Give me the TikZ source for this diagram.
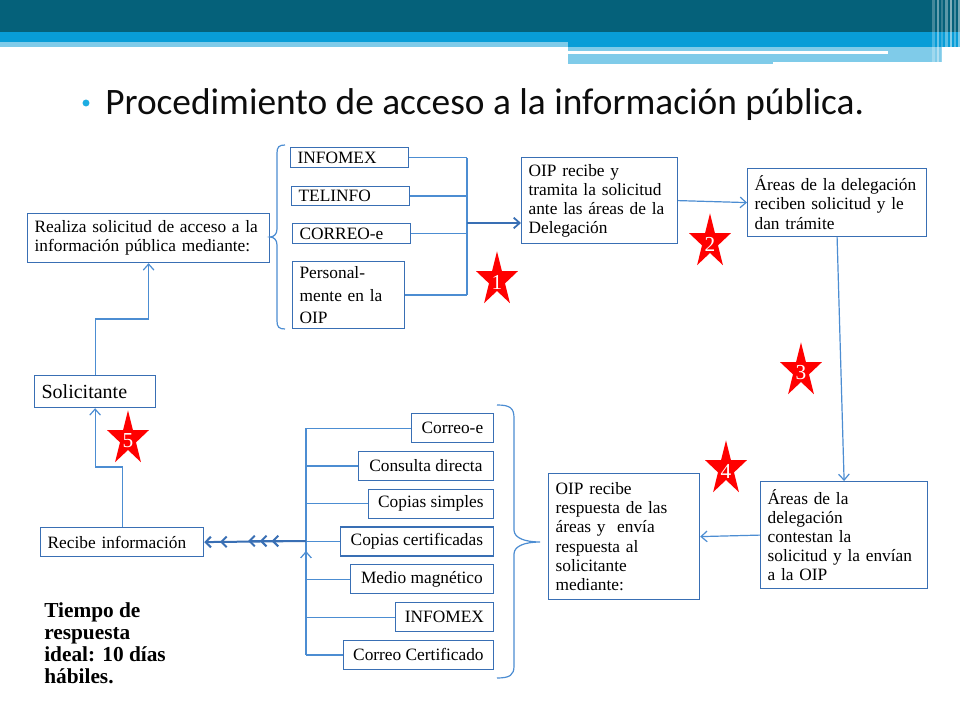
\documentclass[tikz,border=0pt]{standalone}
\usepackage{fontspec}
\setmainfont{Liberation Serif}
\newfontfamily\titulofont{Carlito}
\usetikzlibrary{arrows.meta}

\definecolor{tealosc}{RGB}{5,97,122}
\definecolor{azulvivo}{RGB}{8,157,215}
\definecolor{azulclaro}{RGB}{127,203,233}
\definecolor{vineta}{RGB}{29,173,226}
\definecolor{cajaazul}{RGB}{57,111,180}
\definecolor{lineaazul}{RGB}{76,141,210}

\def\px{0.75pt}

% estrella roja con numero: nombre, centro, numero
\newcommand{\estrella}[3]{%
  \fill[red, shift={(#2)}, xscale=22, yscale=28.7] (-90:1)
    \foreach \k in {1,...,9} { -- ({-90+36*\k}:{mod(\k,2)==0 ? 1 : 0.382}) } -- cycle;
  \node[numero, yshift=-1.5pt] (#1) at (#2) {#3};}

\begin{document}
\begin{tikzpicture}[x=0.75pt, y=-0.75pt,
    caja/.style={draw=cajaazul, line width=0.9pt, anchor=north west,
      inner xsep=5.25pt, inner ysep=0pt, font=\fontsize{13}{14.3}\selectfont},
    opcion/.style={draw=cajaazul, line width=0.9pt, anchor=north east, align=center,
      inner sep=0pt, minimum height=29*\px, font=\fontsize{13}{14.3}\selectfont},
    linea/.style={draw=lineaazul, line width=0.9pt},
    punta/.style={-{Straight Barb[length=4.5pt, width=8pt]}},
    numero/.style={text=white, font=\fontsize{16}{16}\selectfont, inner sep=0pt}
  ]
    \useasboundingbox (0,0) rectangle (960,720);
    \fill[white] (0,0) rectangle (960,720);

    % cabecera
    \fill[tealosc] (0,0) rectangle (960,32);
    \fill[azulvivo] (0,32) rectangle (960,42);
    \fill[azulvivo] (568,42) rectangle (960,47);
    \fill[azulclaro] (0,42) rectangle (568,47);
    \fill[azulclaro] (568,47) rectangle (942,62);
    \fill[azulclaro] (568,62) rectangle (773,64);
    \fill[white] (568,51) rectangle (888,54);
    \foreach \x/\w/\o in {932/3/0.25, 937/2/0.4, 941/1.5/0.2, 945/3/0.35, 950/1.5/0.5, 954/2/0.3, 958/2/0.45}
      \fill[white, opacity=\o] (\x,0) rectangle (\x+\w,64);

    % titulo
    \fill[vineta] (86,103) circle[radius=2.6pt];
    \node[anchor=base west, inner sep=0pt, text=black!95, font=\titulofont\fontsize{28}{34}\selectfont]
      (titulo) at (105,115) {Procedimiento de acceso a la información pública.};

    % solicitud
    \node[caja, text width=228*\px, minimum height=49*\px] (realiza) at (27,213)
      {Realiza solicitud de acceso a la\\información pública mediante:};
    \node[caja, text width=104*\px, minimum height=20*\px] (infomex) at (290,147) {INFOMEX};
    \node[caja, text width=104*\px, minimum height=19*\px] (telinfo) at (291,186) {TELINFO};
    \node[caja, text width=104*\px, minimum height=20*\px] (correo) at (292,223) {CORREO-e};
    \node[caja, text width=98*\px, minimum height=67*\px, font=\fontsize{13}{17}\selectfont]
      (personal) at (292,261) {Personal-\\mente en la\\OIP};

    \node[caja, text width=142*\px, minimum height=86*\px] (oiprecibe) at (521,157)
      {OIP recibe y\\tramita la solicitud\\ante las áreas de la\\Delegación};
    \node[caja, text width=165*\px, minimum height=68*\px] (areasrecibe) at (747,168)
      {Áreas de la delegación\\reciben solicitud y le\\dan trámite};
    \node[caja, text width=153*\px, minimum height=107*\px] (areascontestan) at (760,481)
      {Áreas de la\\delegación\\contestan la\\solicitud y la envían\\a la OIP};
    \node[caja, text width=137*\px, minimum height=126*\px] (oiprespuesta) at (548,473)
      {OIP recibe\\respuesta de las\\áreas y\ \ envía\\respuesta al\\solicitante\\mediante:};

    % respuesta
    \foreach \izq/\texto [count=\i from 0] in {412/Correo-e, 359/Consulta directa,
        369/Copias simples, 341/Copias certificadas, 351/Medio magnético,
        396/INFOMEX, 344/Correo Certificado}
      \node[opcion, minimum width={(494-\izq)*\px}] (op\i) at (494,{413+37.8*\i}) {\texto};

    \node[caja, text width=149*\px, minimum height=29*\px] (recibe) at (40,527) {Recibe información};
    \node[caja, text width=107*\px, minimum height=32*\px, font=\fontsize{15}{16}\selectfont]
      (solicitante) at (34,375) {Solicitante};

    % conectores de arriba
    \coordinate (eje1) at (467,223);
    \foreach \n in {infomex, telinfo, correo, personal}
      \draw[linea] (\n.east) -- (\n.east -| eje1);
    \draw[linea] (eje1 |- infomex.east) -- (eje1 |- personal.east);
    \draw[cajaazul, line width=1.3pt, -{Straight Barb[length=4.5pt, width=8pt]}]
      (eje1) -- (oiprecibe.west |- eje1);
    \draw[linea, punta] (oiprecibe.east) -- (areasrecibe.west);
    \draw[linea, punta] (areasrecibe.south) -- (areascontestan.north);
    \draw[linea, punta] (areascontestan.west) -- (oiprespuesta.east);

    % conectores de abajo
    \coordinate (eje2) at (306,541);
    \coordinate (subida) at (306,551);
    \coordinate (triple) at (248,541);
    \foreach \i in {0,...,6}
      \draw[linea] (op\i.west) -- (op\i.west -| eje2);
    \draw[linea] (eje2 |- op0.west) -- (eje2 |- op6.west);
    \draw[linea, punta] (eje2 |- op6.west) -- (subida);
    \draw[cajaazul, line width=1.5pt, -{Straight Barb[length=4pt, width=8pt, sep=6pt]
      Straight Barb[length=4pt, width=8pt]}] (eje2) -- (recibe.east);
    \draw[cajaazul, line width=1.5pt, -{Straight Barb[length=4pt, width=8pt, sep=3pt]
      Straight Barb[length=4pt, width=8pt, sep=3pt] Straight Barb[length=4pt, width=8pt]}]
      (eje2) -- (triple);

    % solicitante
    \coordinate (codo1) at (0,319);
    \coordinate (codo2) at (0,467);
    \draw[linea, punta] (solicitante.north) |- (realiza.south |- codo1) -- (realiza.south);
    \draw[linea, punta] (recibe.north) |- (solicitante.south |- codo2) -- (solicitante.south);

    % llaves
    \draw[linea] (285,145) .. controls (279,145) and (277,147) .. (277,153) -- (277,229)
      .. controls (277,234) and (274,237) .. (270,237)
      .. controls (274,237) and (277,240) .. (277,245) -- (277,321)
      .. controls (277,327) and (279,329) .. (285,329);
    \draw[linea] (497,405) .. controls (510,405) and (514,408) .. (514,418) -- (514,530)
      .. controls (514,538) and (525,542) .. (540,542)
      .. controls (525,542) and (514,546) .. (514,554) -- (514,666)
      .. controls (514,675) and (510,678) .. (497,678);

    % estrellas
    \estrella{e1}{497,280}{1}
    \estrella{e2}{710,242}{2}
    \estrella{e3}{801,371}{3}
    \estrella{e4}{726,469}{4}
    \estrella{e5}{128,439}{5}

    \node[anchor=north west, align=left, inner sep=0pt, font=\fontsize{16}{16.5}\selectfont\bfseries]
      (tiempo) at (44,602) {Tiempo de\\respuesta\\ideal: 10 días\\hábiles.};

  \end{tikzpicture}
\end{document}
